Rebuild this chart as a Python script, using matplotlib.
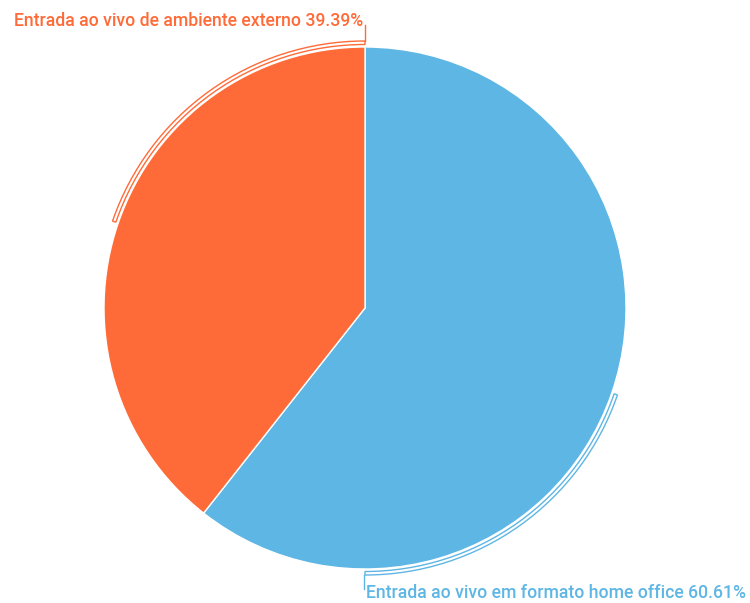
import matplotlib.pyplot as plt
from matplotlib.patches import Wedge

# slice data
labels = ['Entrada ao vivo em formato home office', 'Entrada ao vivo de ambiente externo']
values = [60.61, 39.39]
colors = ['#5eb6e4', '#ff6b38']

W, H = 750, 603
fig = plt.figure(figsize=(W / 100, H / 100), dpi=100)
ax = fig.add_axes([0, 0, 1, 1])

cx, cy, r = 365, 295, 261
wedges, _ = ax.pie(values, colors=colors, startangle=90, counterclock=False,
                   center=(cx, cy), radius=r, frame=True,
                   wedgeprops=dict(edgecolor='white', linewidth=1))

# outer leader bands (blue one ends at bottom, orange one starts at top)
bands = [(-90, -19), (90, 161)]
for (t1, t2), c in zip(bands, colors):
    ax.add_patch(Wedge((cx, cy), r + 6, t1, t2, width=3.5, fill=False,
                       edgecolor=c, linewidth=1))

# short vertical leaders to the labels
ax.plot([cx, cx], [cy + r + 6, H - 25], color=colors[1], lw=1)
ax.plot([cx - 1, cx - 1], [cy - r - 6, 14], color=colors[0], lw=1)

font = dict(family=['Roboto', 'DejaVu Sans'], weight='medium', fontsize=12.7)
ax.text(cx - 2, H - 26, f'{labels[1]} {values[1]:.2f}%', color=colors[1],
        ha='right', va='baseline', **font)
ax.text(cx + 1, 5, f'{labels[0]} {values[0]:.2f}%', color=colors[0],
        ha='left', va='baseline', **font)

ax.set_xlim(0, W)
ax.set_ylim(0, H)
ax.set_aspect('equal')
ax.axis('off')

fig.savefig('out.png', dpi=100)
